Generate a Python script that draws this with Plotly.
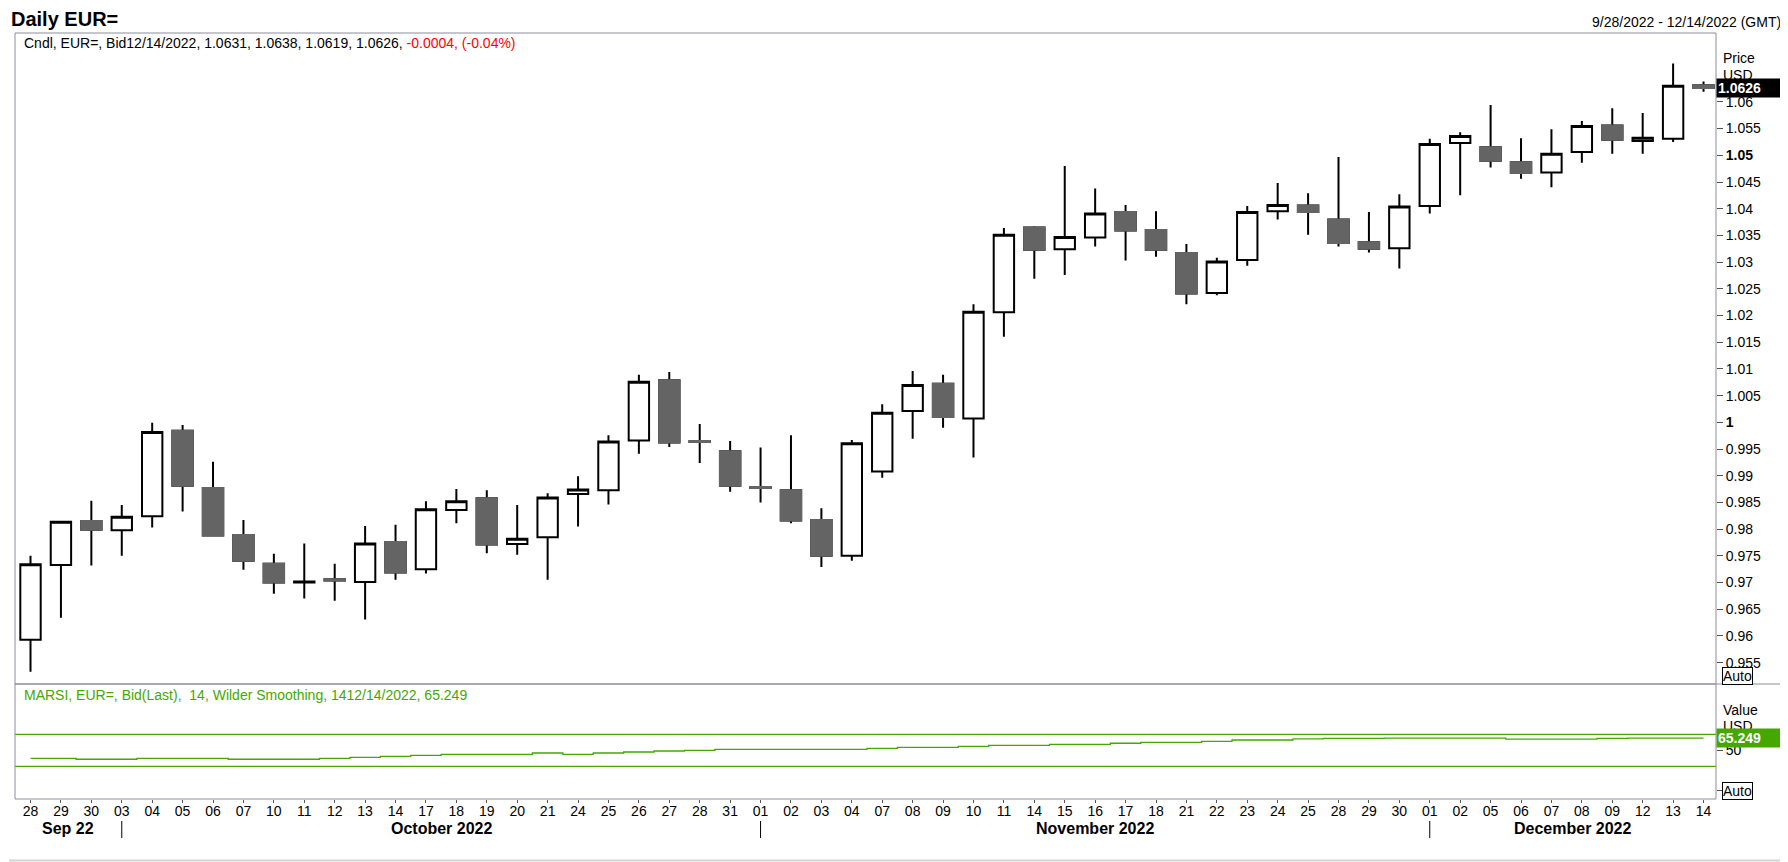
import plotly.graph_objects as go

# trading days shown on the chart
dates = [
    "2022-09-28", "2022-09-29", "2022-09-30",
    "2022-10-03", "2022-10-04", "2022-10-05", "2022-10-06", "2022-10-07",
    "2022-10-10", "2022-10-11", "2022-10-12", "2022-10-13", "2022-10-14",
    "2022-10-17", "2022-10-18", "2022-10-19", "2022-10-20", "2022-10-21",
    "2022-10-24", "2022-10-25", "2022-10-26", "2022-10-27", "2022-10-28",
    "2022-10-31", "2022-11-01", "2022-11-02", "2022-11-03", "2022-11-04",
    "2022-11-07", "2022-11-08", "2022-11-09", "2022-11-10", "2022-11-11",
    "2022-11-14", "2022-11-15", "2022-11-16", "2022-11-17", "2022-11-18",
    "2022-11-21", "2022-11-22", "2022-11-23", "2022-11-24", "2022-11-25",
    "2022-11-28", "2022-11-29", "2022-11-30", "2022-12-01", "2022-12-02",
    "2022-12-05", "2022-12-06", "2022-12-07", "2022-12-08", "2022-12-09",
    "2022-12-12", "2022-12-13", "2022-12-14",
]
day_labels = [d[-2:] for d in dates]

opens = [
    0.9593, 0.9733, 0.9815, 0.9798, 0.9824, 0.9984, 0.9877, 0.9789, 0.9735, 0.9700,
    0.9706, 0.9701, 0.9776, 0.9725, 0.9836, 0.9858, 0.9772, 0.9785, 0.9866, 0.9873,
    0.9966, 1.0079, 0.9965, 0.9946, 0.9879, 0.9873, 0.9817, 0.9750, 0.9908, 1.0021,
    1.0072, 1.0007, 1.0206, 1.0365, 1.0324, 1.0346, 1.0394, 1.0360, 1.0317, 1.0242,
    1.0304, 1.0395, 1.0406, 1.0380, 1.0337, 1.0326, 1.0405, 1.0523, 1.0515, 1.0487,
    1.0468, 1.0506, 1.0556, 1.0527, 1.0531, 1.0631,
]
highs = [
    0.9750, 0.9815, 0.9853, 0.9845, 0.9999, 0.9995, 0.9926, 0.9817, 0.9754, 0.9773,
    0.9735, 0.9806, 0.9808, 0.9852, 0.9875, 0.9873, 0.9845, 0.9867, 0.9899, 0.9976,
    1.0089, 1.0094, 0.9997, 0.9965, 0.9953, 0.9976, 0.9839, 0.9967, 1.0034, 1.0096,
    1.0089, 1.0221, 1.0364, 1.0367, 1.0480, 1.0438, 1.0407, 1.0395, 1.0334, 1.0308,
    1.0405, 1.0448, 1.0429, 1.0497, 1.0394, 1.0427, 1.0531, 1.0543, 1.0594, 1.0532,
    1.0549, 1.0564, 1.0588, 1.0579, 1.0672, 1.0638,
]
lows = [
    0.9533, 0.9634, 0.9732, 0.9750, 0.9803, 0.9833, 0.9786, 0.9724, 0.9679, 0.9670,
    0.9666, 0.9631, 0.9705, 0.9717, 0.9811, 0.9755, 0.9752, 0.9705, 0.9805, 0.9846,
    0.9941, 0.9954, 0.9924, 0.9870, 0.9850, 0.9811, 0.9729, 0.9741, 0.9896, 0.9969,
    0.9990, 0.9934, 1.0160, 1.0269, 1.0276, 1.0329, 1.0303, 1.0310, 1.0221, 1.0238,
    1.0293, 1.0380, 1.0351, 1.0329, 1.0318, 1.0288, 1.0391, 1.0425, 1.0477, 1.0456,
    1.0440, 1.0486, 1.0503, 1.0503, 1.0525, 1.0619,
]
closes = [
    0.9734, 0.9814, 0.9799, 0.9823, 0.9982, 0.9881, 0.9788, 0.9741, 0.9700, 0.9702,
    0.9704, 0.9773, 0.9719, 0.9837, 0.9852, 0.9771, 0.9782, 0.9859, 0.9874, 0.9964,
    1.0076, 0.9962, 0.9963, 0.9881, 0.9877, 0.9816, 0.9750, 0.9961, 1.0018, 1.0070,
    1.0010, 1.0207, 1.0351, 1.0323, 1.0347, 1.0391, 1.0359, 1.0323, 1.0241, 1.0301,
    1.0394, 1.0407, 1.0394, 1.0336, 1.0325, 1.0404, 1.0521, 1.0536, 1.0490, 1.0467,
    1.0503, 1.0555, 1.0529, 1.0533, 1.0630, 1.0626,
]

# MARSI 14, Wilder smoothing
rsi = [
    40.0, 40.0, 38.8, 38.8, 40.0, 40.0, 40.0, 38.8, 38.8, 38.8,
    40.0, 41.2, 42.5, 43.7, 45.0, 45.0, 45.0, 46.6, 45.0, 46.6,
    47.9, 49.1, 49.9, 51.1, 51.1, 51.1, 51.1, 51.1, 52.3, 53.7,
    53.7, 55.0, 56.2, 56.2, 57.5, 57.5, 58.8, 60.0, 60.0, 61.2,
    62.9, 62.9, 64.3, 64.9, 65.0, 65.1, 65.2, 65.2, 65.1, 63.9,
    63.9, 63.9, 65.0, 65.1, 65.2, 65.249,
]
rsi_levels = [70, 30]

price_ticks = [0.955, 0.96, 0.965, 0.97, 0.975, 0.98, 0.985, 0.99, 0.995, 1.0,
               1.005, 1.01, 1.015, 1.02, 1.025, 1.03, 1.035, 1.04, 1.045, 1.05,
               1.055, 1.06]
price_tick_labels = ["0.955", "0.96", "0.965", "0.97", "0.975", "0.98", "0.985", "0.99",
                     "0.995", "<b>1</b>", "1.005", "1.01", "1.015", "1.02", "1.025", "1.03",
                     "1.035", "1.04", "1.045", "<b>1.05</b>", "1.055", "1.06"]
month_names = {"09": "Sep 22", "10": "October 2022", "11": "November 2022", "12": "December 2022"}

FONT = "Liberation Sans, Arial, sans-serif"
FRAME = "#8c8c9c"
GREEN = "#44a800"
DOWN = "#646464"

# the page body adds an 8px margin, so positions below are in window pixels
OFF = 8
W, H = 1788 - OFF, 862 - OFF
PLOT_L, PLOT_R, PLOT_T, PLOT_B = 15, 1716, 33, 799
ML, MR = PLOT_L - OFF, W - (PLOT_R - OFF)
MT, MB = PLOT_T - OFF, H - (PLOT_B - OFF)
PW, PH = W - ML - MR, H - MT - MB
X_RANGE = [-0.51, 55.41]


def px_x(px):
    return (px - PLOT_L) / PW


def px_y(py):
    return (PLOT_B - py) / PH


rsi_top = px_y(684)

fig = go.Figure()

# all candles: black wicks/outlines
fig.add_trace(go.Candlestick(
    x=dates, open=opens, high=highs, low=lows, close=closes,
    increasing=dict(line=dict(color="black", width=2), fillcolor="white"),
    decreasing=dict(line=dict(color="black", width=2), fillcolor=DOWN),
    yaxis="y", showlegend=False, hoverinfo="skip",
))

# down candles: grey bodies drawn over the black outline
dn = [i for i in range(len(dates)) if closes[i] < opens[i]]
fig.add_trace(go.Candlestick(
    x=[dates[i] for i in dn],
    open=[opens[i] for i in dn], close=[closes[i] for i in dn],
    high=[opens[i] for i in dn], low=[closes[i] for i in dn],
    increasing=dict(line=dict(color=DOWN, width=2), fillcolor=DOWN),
    decreasing=dict(line=dict(color=DOWN, width=2), fillcolor=DOWN),
    yaxis="y", showlegend=False, hoverinfo="skip",
))

fig.add_trace(go.Scatter(
    x=dates, y=rsi, mode="lines", line=dict(color=GREEN, width=1.3, shape="hvh"),
    yaxis="y2", showlegend=False, hoverinfo="skip",
))

for lv in rsi_levels:
    fig.add_shape(type="line", xref="paper", x0=0, x1=1, yref="y2", y0=lv, y1=lv,
                  line=dict(color=GREEN, width=1.3))

# panel frames
fig.add_shape(type="rect", xref="paper", yref="paper", x0=0, x1=1, y0=rsi_top, y1=1,
              line=dict(color=FRAME, width=1))
fig.add_shape(type="rect", xref="paper", yref="paper", x0=0, x1=1, y0=0, y1=rsi_top,
              line=dict(color=FRAME, width=1))
fig.add_shape(type="line", xref="paper", yref="paper", x0=1, x1=px_x(1785), y0=rsi_top, y1=rsi_top,
              line=dict(color=FRAME, width=1))
# outer widget border (right and bottom edges)
fig.add_shape(type="line", xref="paper", yref="paper", x0=px_x(1785.5), x1=px_x(1785.5),
              y0=px_y(860.5), y1=px_y(9), line=dict(color="#d4d4d4", width=2))
fig.add_shape(type="line", xref="paper", yref="paper", x0=px_x(9), x1=px_x(1785.5),
              y0=px_y(860.5), y1=px_y(860.5), line=dict(color="#d4d4d4", width=2))

# month separators and month names
starts = [i for i in range(len(dates)) if i == 0 or dates[i][5:7] != dates[i - 1][5:7]]
bounds = [X_RANGE[0]] + starts[1:] + [X_RANGE[1]]
for k, s in enumerate(starts):
    if k > 0:
        fig.add_shape(type="line", xref="x", x0=s, x1=s, yref="paper",
                      y0=px_y(821), y1=px_y(838), line=dict(color="black", width=1))
    fig.add_annotation(x=(bounds[k] + bounds[k + 1]) / 2, xref="x", y=px_y(828), yref="paper",
                       text="<b>%s</b>" % month_names[dates[s][5:7]], showarrow=False,
                       font=dict(size=16, color="black", family=FONT), yanchor="middle")

ann_font = dict(size=14, color="black", family=FONT)

fig.add_annotation(text="<b>Daily EUR=</b>", xref="paper", yref="paper", x=px_x(10), y=px_y(19),
                   xanchor="left", yanchor="middle", showarrow=False, borderpad=0,
                   font=dict(size=20, color="black", family=FONT))
fig.add_annotation(text="%s - %s (GMT)" % ("9/28/2022", "12/14/2022"), xref="paper", yref="paper",
                   x=px_x(1783), y=px_y(22), xanchor="right", yanchor="middle",
                   showarrow=False, font=ann_font)

legend_txt = ("Cndl, EUR=, Bid12/14/2022, %.4f, %.4f, %.4f, %.4f, "
              "<span style='color:#ff0000'>-0.0004, (-0.04%%)</span>"
              % (opens[-1], highs[-1], lows[-1], closes[-1]))
fig.add_annotation(text=legend_txt, xref="paper", yref="paper", x=px_x(22), y=px_y(43),
                   xanchor="left", yanchor="middle", showarrow=False, font=ann_font)
fig.add_annotation(text="MARSI, EUR=, Bid(Last),  14, Wilder Smoothing, 1412/14/2022, %.3f" % rsi[-1],
                   xref="paper", yref="paper", x=px_x(22), y=px_y(695),
                   xanchor="left", yanchor="middle", showarrow=False,
                   font=dict(size=14, color=GREEN, family=FONT))

# right-hand axis captions
for txt, py in [("Price", 58), ("USD", 75), ("Value", 710), ("USD", 726)]:
    fig.add_annotation(text=txt, xref="paper", yref="paper", x=1, xshift=5, y=px_y(py),
                       xanchor="left", yanchor="middle", showarrow=False, font=ann_font)
for py in [675.5, 791]:
    fig.add_annotation(text="Auto", xref="paper", yref="paper", x=1, xshift=6, y=px_y(py),
                       xanchor="left", yanchor="middle", showarrow=False, font=ann_font,
                       bordercolor="black", borderwidth=1, borderpad=0, bgcolor="white")

fig.add_annotation(text="<b>%.4f</b>" % closes[-1], xref="paper", yref="y", x=1, y=closes[-1],
                   xanchor="left", yanchor="middle", showarrow=False, width=66, align="left",
                   bgcolor="black", borderpad=1, font=dict(size=14, color="white", family=FONT))
fig.add_annotation(text="<b>%.3f</b>" % rsi[-1], xref="paper", yref="y2", x=1, y=rsi[-1],
                   xanchor="left", yanchor="middle", showarrow=False, width=66, align="left",
                   bgcolor=GREEN, borderpad=1, font=dict(size=14, color="white", family=FONT))

fig.update_layout(
    width=W, height=H,
    margin=dict(l=ML, r=MR, t=MT, b=MB),
    paper_bgcolor="white", plot_bgcolor="white",
    font=dict(family=FONT, size=14, color="black"),
    showlegend=False,
    boxgap=0.33, boxgroupgap=0,
    xaxis=dict(
        type="category", range=X_RANGE, anchor="y2",
        tickvals=dates, ticktext=day_labels, tickangle=0,
        ticks="outside", ticklen=3, tickcolor="#555555", ticklabelstandoff=-4,
        showgrid=False, zeroline=False, showline=False,
        rangeslider=dict(visible=False),
        tickfont=dict(size=14, color="black", family=FONT),
    ),
    yaxis=dict(
        domain=[rsi_top, 1], side="right", anchor="x",
        range=[0.951, 1.0729], tickvals=price_ticks, ticktext=price_tick_labels,
        ticks="outside", ticklen=6, tickcolor="#555555",
        showgrid=False, zeroline=False, showline=False,
        tickfont=dict(size=14, color="black", family=FONT),
    ),
    yaxis2=dict(
        domain=[0, rsi_top], side="right", anchor="x",
        range=[-10.9, 132.9], tickvals=[0, 50], ticktext=["", "50"],
        ticks="outside", ticklen=6, tickcolor="#555555",
        showgrid=False, zeroline=False, showline=False,
        tickfont=dict(size=14, color="black", family=FONT),
    ),
)

fig.write_html("out.html")
